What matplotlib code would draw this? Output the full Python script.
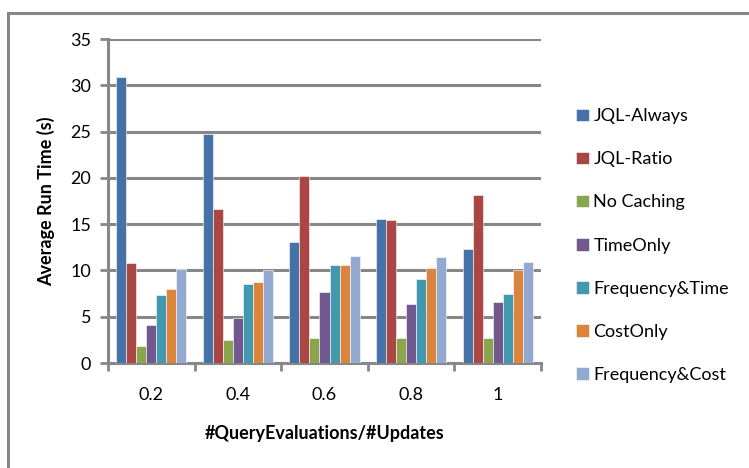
import matplotlib
matplotlib.use("Agg")
import matplotlib.pyplot as plt
from matplotlib.patches import Rectangle
import numpy as np

plt.rcParams['font.family'] = ['Lato', 'DejaVu Sans']

ratios = ['0.2', '0.4', '0.6', '0.8', '1']
series = ['JQL-Always', 'JQL-Ratio', 'No Caching', 'TimeOnly',
          'Frequency&Time', 'CostOnly', 'Frequency&Cost']

jql_always = [30.9, 24.7, 13.1, 15.6, 12.3]
jql_ratio = [10.8, 16.6, 20.25, 15.4, 18.1]
no_caching = [1.8, 2.5, 2.7, 2.7, 2.7]
time_only = [4.1, 4.9, 7.7, 6.4, 6.6]
freq_time = [7.3, 8.5, 10.6, 9.1, 7.5]
cost_only = [7.95, 8.7, 10.6, 10.25, 10.1]
freq_cost = [10.2, 10.0, 11.6, 11.4, 10.9]

values = [jql_always, jql_ratio, no_caching, time_only, freq_time, cost_only, freq_cost]
colors = ['#4572A7', '#AA4643', '#89A54E', '#71588F', '#4198AF', '#DB843D', '#93A9CF']
grid_gray = '#878787'

W, H = 749, 468
fig = plt.figure(figsize=(W / 100, H / 100), dpi=100)
ax = fig.add_axes([108 / W, 1 - 363 / H, (541 - 108) / W, (363 - 39) / H])

# outer chart frame, cut off at the right and bottom edges
fig.patches.append(Rectangle((8 / W, -0.1), 1.2, 1 - 13 / H + 0.1,
                             transform=fig.transFigure, fill=False,
                             edgecolor=grid_gray, linewidth=2.2, zorder=0))

x = np.arange(len(ratios))
bw = 0.1155
for i, (name, vals) in enumerate(zip(series, values)):
    offs = (i - 3) * bw
    ax.bar(x + offs, vals, bw, color=colors[i], label=name,
           edgecolor='white', linewidth=0.4, zorder=3)

ax.set_xlim(-0.5, len(ratios) - 0.5)
ax.set_ylim(0, 35)
ax.set_yticks(range(0, 36, 5))
ax.yaxis.grid(True, color=grid_gray, linewidth=2.2, zorder=0)
ax.set_axisbelow(True)

ax.set_xticks(x)
ax.set_xticklabels(ratios)
ax.set_xticks(np.arange(-0.5, len(ratios), 1), minor=True)
ax.tick_params(axis='x', which='major', length=0, labelsize=13, pad=17)
ax.tick_params(axis='x', which='minor', length=6, width=2, color=grid_gray)
ax.tick_params(axis='y', length=6, width=2, color=grid_gray, labelsize=13, pad=6)

for side in ['top', 'right']:
    ax.spines[side].set_visible(False)
for side in ['left', 'bottom']:
    ax.spines[side].set_color(grid_gray)
    ax.spines[side].set_linewidth(2.2)

ax.set_ylabel('Average Run Time (s)', fontsize=13, fontweight='bold', labelpad=11)
ax.set_xlabel('#QueryEvaluations/#Updates', fontsize=13, fontweight='bold', labelpad=16)

fig.legend(loc='upper left', bbox_to_anchor=(560 / W, 1 - 92 / H),
           frameon=False, fontsize=13, handlelength=0.7, handleheight=0.7,
           handletextpad=0.25, labelspacing=1.5)

fig.savefig('out.png', dpi=100)
